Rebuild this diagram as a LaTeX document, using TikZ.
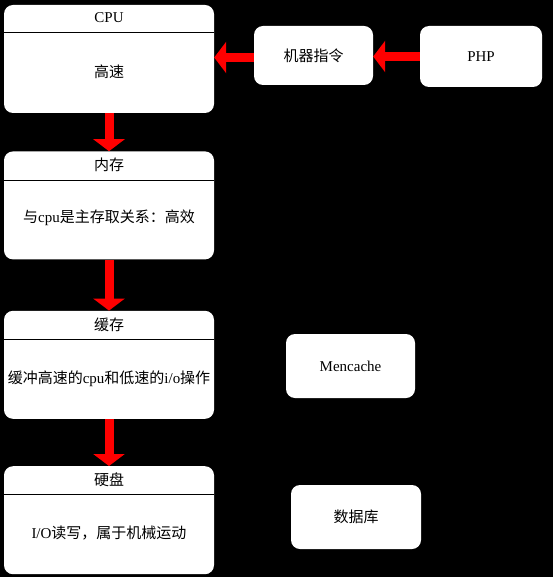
\documentclass[tikz,border=0pt]{standalone}
\usepackage{fontspec}
\setmainfont{Liberation Serif}
\newfontfamily\cjk{Noto Sans CJK SC}
\newcommand{\zh}[1]{{\cjk #1}}
\usetikzlibrary{positioning,arrows.meta}

\begin{document}
\begin{tikzpicture}[
    x=1pt, y=-1pt,
    font=\fontsize{15}{18}\selectfont,
    node distance=38pt,
    >=Stealth,
    block/.style={fill=white, rounded corners=9pt, inner sep=0pt, minimum width=210pt, minimum height=108pt},
    smallblock/.style={fill=white, rounded corners=9pt, inner sep=0pt},
    divider/.style={black, line width=0.8pt},
    bigarrow/.style={red, line width=9pt, -{Triangle[width=31pt,length=12pt]}}
]

% 背景
\fill[black] (0,0) rectangle (553,577);

% 左列
\node[block] (cpu) at (109,59) {};
\node[block, below=38pt of cpu] (mem) {};
\node[block, below=51pt of mem] (cache) {};
\node[block, below=47pt of cache] (disk) {};

% 标题与分隔线
\node (cpu_title) at ([yshift=-13pt]cpu.north) {CPU};
\node (mem_title) at ([yshift=-14pt]mem.north) {\zh{内存}};
\node (cache_title) at ([yshift=-14pt]cache.north) {\zh{缓存}};
\node (disk_title) at ([yshift=-14pt]disk.north) {\zh{硬盘}};

\draw[divider] ([yshift=-28pt]cpu.north west) -- ([yshift=-28pt]cpu.north east);
\draw[divider] ([yshift=-29pt]mem.north west) -- ([yshift=-29pt]mem.north east);
\draw[divider] ([yshift=-29pt]cache.north west) -- ([yshift=-29pt]cache.north east);
\draw[divider] ([yshift=-28pt]disk.north west) -- ([yshift=-28pt]disk.north east);

% 内容
\node (cpu_body) at ([yshift=-67pt]cpu.north) {\zh{高速}};
\node (mem_body) at ([yshift=-67pt]mem.north) {\zh{与}cpu\zh{是主存取关系：高效}};
\node (cache_body) at ([yshift=-68pt]cache.north) {\zh{缓冲高速的}cpu\zh{和低速的}i/o\zh{操作}};
\node (disk_body) at ([yshift=-67pt]disk.north) {I/O\zh{读写，属于机械运动}};

% 右侧
\node[smallblock, minimum width=119pt, minimum height=59pt] (cmd) at (313.5,55.5) {\zh{机器指令}};
\node[smallblock, minimum width=122pt, minimum height=61pt] (php) at (481,56.5) {PHP};
\node[smallblock, minimum width=129pt, minimum height=64pt] (mc) at (350.5,366) {Mencache};
\node[smallblock, minimum width=130pt, minimum height=64pt] (db) at (356,517) {\zh{数据库}};

% 箭头
\draw[bigarrow] (php.west) -- (php.west -| cmd.east);
\draw[bigarrow] ([yshift=-2pt]cmd.west) -- ([yshift=-2pt]cmd.west -| cpu.east);
\draw[bigarrow] (cpu.south) -- (mem.north);
\draw[bigarrow] (mem.south) -- (cache.north);
\draw[bigarrow] (cache.south) -- (disk.north);

\end{tikzpicture}
\end{document}
